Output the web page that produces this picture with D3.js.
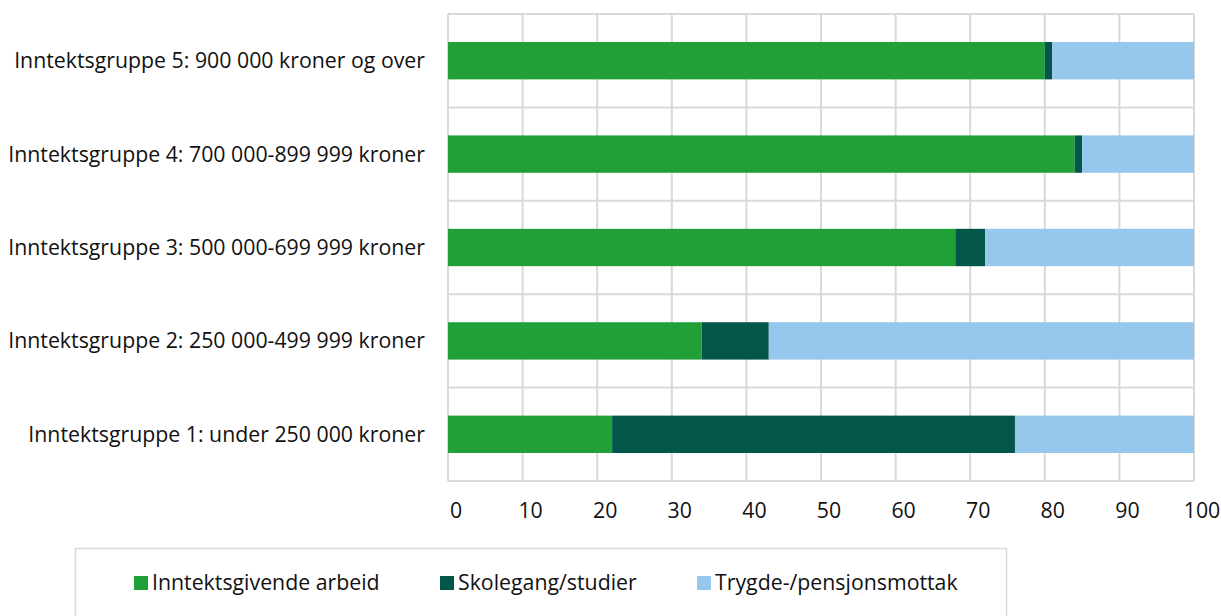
<!DOCTYPE html>
<html>
<head>
<meta charset="utf-8">
<script src="https://cdn.jsdelivr.net/npm/d3@7"></script>
<style>
  body { margin: 0; background: #fff; }
  svg text { font-family: "Open Sans", sans-serif; fill: #111; }
</style>
</head>
<body>
<svg id="chart" width="1221" height="616"></svg>
<script>
// categories, top to bottom
const groups = [
    "Inntektsgruppe 5: 900 000 kroner og over",
    "Inntektsgruppe 4: 700 000-899 999 kroner",
    "Inntektsgruppe 3: 500 000-699 999 kroner",
    "Inntektsgruppe 2: 250 000-499 999 kroner",
    "Inntektsgruppe 1: under 250 000 kroner"
]
const seriesNames = ["Inntektsgivende arbeid", "Skolegang/studier", "Trygde-/pensjonsmottak"]
const arbeid = [80, 84, 68, 34, 22]
const studier = [1, 1, 4, 9, 54]
const trygd = [19, 15, 28, 57, 24]
const xTicks = [0, 10, 20, 30, 40, 50, 60, 70, 80, 90, 100]
const colors = ["#21a038", "#02564a", "#96c7ec"]

const svg = d3.select("#chart")
const plotLeft = 448, plotRight = 1194, plotTop = 14, plotBottom = 481

const x = d3.scaleLinear().domain([0, 100]).range([plotLeft, plotRight])
const y = d3.scaleBand()
    .domain(groups)
    .range([plotTop, plotBottom])
    .paddingInner(0.6)
    .paddingOuter(0.3)

const rows = groups.map((g, i) => ({
    group: g,
    [seriesNames[0]]: arbeid[i],
    [seriesNames[1]]: studier[i],
    [seriesNames[2]]: trygd[i]
}))
const stacked = d3.stack().keys(seriesNames)(rows)

// grid
const grid = svg.append("g").attr("stroke", "#d9d9d9").attr("stroke-width", 2)
grid.selectAll("line.v")
    .data(xTicks)
    .join("line")
    .attr("class", "v")
    .attr("x1", d => x(d)).attr("x2", d => x(d))
    .attr("y1", plotTop).attr("y2", plotBottom)
const step = y.step()
const hLines = d3.range(groups.length + 1).map(i => plotTop + i * step)
grid.selectAll("line.h")
    .data(hLines)
    .join("line")
    .attr("class", "h")
    .attr("x1", plotLeft).attr("x2", plotRight)
    .attr("y1", d => d).attr("y2", d => d)

// bars
svg.append("g")
    .selectAll("g")
    .data(stacked)
    .join("g")
    .attr("fill", (d, i) => colors[i])
    .selectAll("rect")
    .data(d => d)
    .join("rect")
    .attr("x", d => x(d[0]))
    .attr("width", d => x(d[1]) - x(d[0]))
    .attr("y", d => y(d.data.group))
    .attr("height", y.bandwidth())

// x tick labels
svg.append("g")
    .selectAll("text")
    .data(xTicks)
    .join("text")
    .attr("x", d => x(d) + 8)
    .attr("y", 518)
    .attr("text-anchor", "middle")
    .style("font-size", "21.3px")
    .text(d => d)

// category labels
svg.append("g")
    .selectAll("text")
    .data(groups)
    .join("text")
    .attr("x", 425)
    .attr("y", d => y(d) + y.bandwidth() / 2)
    .attr("dy", "0.35em")
    .attr("text-anchor", "end")
    .style("font-size", "21.3px")
    .text(d => d)

// legend
svg.append("rect")
    .attr("x", 75.5).attr("y", 548.5)
    .attr("width", 931).attr("height", 80)
    .attr("fill", "none")
    .attr("stroke", "#d9d9d9")
    .attr("stroke-width", 1.5)

const legendX = [134, 440, 697]
const lg = svg.append("g")
    .selectAll("g")
    .data(seriesNames)
    .join("g")
    .attr("transform", (d, i) => `translate(${legendX[i]},583)`)
lg.append("rect")
    .attr("x", 0).attr("y", -7)
    .attr("width", 14).attr("height", 14)
    .attr("fill", (d, i) => colors[i])
lg.append("text")
    .attr("x", 18)
    .attr("dy", "0.35em")
    .style("font-size", "21.3px")
    .text(d => d)
</script>
</body>
</html>
